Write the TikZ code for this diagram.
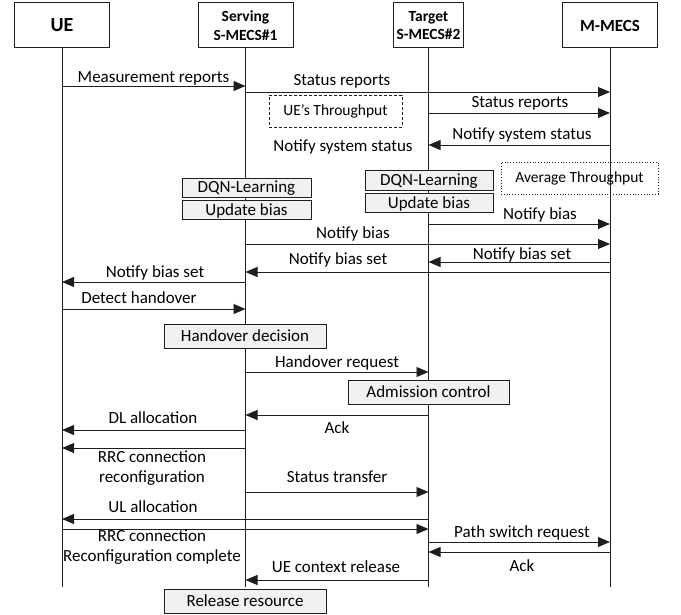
\documentclass[tikz,border=0pt]{standalone}
\usepackage{fontspec}
\setmainfont{Carlito}
\usetikzlibrary{arrows.meta}
\definecolor{boxfill}{RGB}{240,242,242}
\definecolor{ln}{RGB}{30,30,30}
\begin{document}
\begin{tikzpicture}[x=1pt,y=-1pt,
  hdr/.style={draw=ln,line width=1pt,minimum height=45pt,inner sep=0pt,font=\bfseries\fontsize{15.5}{18.5}\selectfont,align=center},
  life/.style={draw=ln,line width=0.9pt},
  msg/.style={draw=ln,line width=0.9pt,-{Triangle[length=12pt,width=10pt]}},
  lbl/.style={font=\fontsize{17}{20}\selectfont,inner sep=0pt,anchor=base},
  act/.style={draw=ln,fill=boxfill,line width=1pt,inner sep=0pt,font=\fontsize{17}{20}\selectfont},
  note/.style={draw=ln,line width=0.8pt,inner sep=0pt,font=\fontsize{15.5}{18}\selectfont}]
\useasboundingbox (0,0) rectangle (681,615);

% headers
\node[hdr,minimum width=95pt,font=\bfseries\fontsize{20}{24}\selectfont] (ue) at (62,25.5) {UE};
\node[hdr,minimum width=95pt] (sv) at (245.5,25.5) {Serving\\S-MECS\#1};
\node[hdr,minimum width=70pt] (tg) at (428.5,25.5) {Target\\S-MECS\#2};
\node[hdr,minimum width=95pt,font=\bfseries\fontsize{17}{20}\selectfont] (mm) at (610,25.5) {M-MECS};

% lifelines
\coordinate (ueEnd) at (ue.south |- 0,587);
\coordinate (svEnd) at (sv.south |- 0,587);
\coordinate (tgEnd) at (tg.south |- 0,587);
\coordinate (mmEnd) at (mm.south |- 0,587);
\draw[life] (ue.south) -- (ueEnd);
\draw[life] (sv.south) -- (svEnd);
\draw[life] (tg.south) -- (tgEnd);
\draw[life] (mm.south) -- (mmEnd);

% messages
\draw[msg] (ue |- 0,86) -- (sv |- 0,86);
\node[lbl] (m1) at (153.5,83) {Measurement reports};
\draw[msg] (sv |- 0,92) -- (mm |- 0,92);
\node[lbl] (m2) at (342,86) {Status reports};
\node[note,dashed,dash pattern=on 3pt off 2pt,minimum width=133pt,minimum height=32pt] (uethr) at (335.5,111) {UE’s Throughput};
\draw[msg] (tg |- 0,113) -- (mm |- 0,113);
\node[lbl] (m3) at (520,108) {Status reports};
\draw[msg] (mm |- 0,145) -- (tg |- 0,145);
\node[lbl] (m4) at (522,140) {Notify system status};
\node[lbl] (m5) at (343,152) {Notify system status};

% learning boxes
\node[act,minimum width=129pt,minimum height=19pt] (dqn1) at (246.5,188.5) {DQN-Learning};
\node[act,minimum width=129pt,minimum height=19pt] (ub1) at (246.5,210.5) {Update bias};
\node[act,minimum width=128pt,minimum height=20pt] (dqn2) at (429,181) {DQN-Learning};
\node[act,minimum width=128pt,minimum height=19pt] (ub2) at (429,203.5) {Update bias};
\node[note,dotted,minimum width=157pt,minimum height=32pt] (avg) at (579.5,178) {Average Throughput};

\draw[msg] (tg |- 0,224) -- (mm |- 0,224);
\node[lbl] (m6) at (540,220) {Notify bias};
\draw[msg] (sv |- 0,244) -- (mm |- 0,244);
\node[lbl] (m7) at (353,239) {Notify bias};
\draw[msg] (mm |- 0,262) -- (tg |- 0,262);
\node[lbl] (m8) at (522,259) {Notify bias set};
\draw[msg] (mm |- 0,272) -- (sv |- 0,272);
\node[lbl] (m9) at (338,265) {Notify bias set};
\draw[msg] (sv |- 0,282) -- (ue |- 0,282);
\node[lbl] (m10) at (155,278) {Notify bias set};
\draw[msg] (ue |- 0,309) -- (sv |- 0,309);
\node[lbl] (m11) at (139,303) {Detect handover};

\node[act,minimum width=162pt,minimum height=24pt] (hod) at (245,336) {Handover decision};
\draw[msg] (sv |- 0,372) -- (tg |- 0,372);
\node[lbl] (m12) at (337,367) {Handover request};
\node[act,minimum width=161pt,minimum height=24pt] (adm) at (428.5,392) {Admission control};
\draw[msg] (tg |- 0,415) -- (sv |- 0,415);
\node[lbl] (m13) at (337,433) {Ack};
\draw[msg] (sv |- 0,430) -- (ue |- 0,430);
\node[lbl] (m14) at (153,423) {DL allocation};
\draw[msg] (sv |- 0,448) -- (ue |- 0,448);
\node[lbl] (m15) at (152,462) {RRC connection};
\node[lbl] (m16) at (152,482) {reconfiguration};
\draw[msg] (sv |- 0,492) -- (tg |- 0,492);
\node[lbl] (m17) at (337,482) {Status transfer};
\draw[msg] (tg |- 0,519) -- (ue |- 0,519);
\node[lbl] (m18) at (153,512) {UL allocation};
\draw[msg] (ue |- 0,529) -- (tg |- 0,529);
\node[lbl] (m19) at (152,541) {RRC connection};
\node[lbl] (m20) at (152,561) {Reconfiguration complete};
\draw[msg] (tg |- 0,542) -- (mm |- 0,542);
\node[lbl] (m21) at (522,537) {Path switch request};
\draw[msg] (mm |- 0,552) -- (tg |- 0,552);
\node[lbl] (m22) at (522,571) {Ack};
\draw[msg] (tg |- 0,580) -- (sv |- 0,580);
\node[lbl] (m23) at (336,572) {UE context release};
\node[act,minimum width=162pt,minimum height=24pt] (rel) at (245,601) {Release resource};
\end{tikzpicture}
\end{document}
